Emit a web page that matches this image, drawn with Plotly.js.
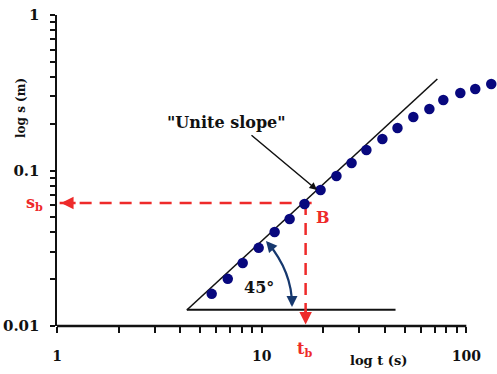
<!DOCTYPE html>
<html><head><meta charset="UTF-8"><title>Unit slope</title>
<script src="https://cdn.plot.ly/plotly-3.0.1.min.js"></script>
<style>
  body, html { margin: 0; padding: 0; background: #ffffff; }
  #plot { width: 497px; height: 374px; }
</style></head><body>
<div id="plot"></div>
<script>
// measured drawdown points (t in s, s in m)
const tData = [5.70, 6.83, 8.08, 9.67, 11.57, 13.7, 16.2, 19.4, 23.2, 27.5, 32.5, 38.9, 46.1, 55.1, 66.0, 77.2, 93.5, 110.6, 132.4];
const sData = [0.0161, 0.0201, 0.0254, 0.0318, 0.0402, 0.0488, 0.0609, 0.0749, 0.0922, 0.1117, 0.1355, 0.1595, 0.1877, 0.2208, 0.2486, 0.2841, 0.3150, 0.3343, 0.3598];

// unit slope line and its base line
const slopeX = [4.31, 72.2];
const slopeY = [0.01267, 0.3875];
const baseX = [4.31, 45.1];
const baseY = [0.0127, 0.0127];

// point B
const tB = 16.4;
const sB = 0.0618;
const dashHX = [1.03, 18.8];
const dashHY = [sB, sB];
const dashVX = [tB, tB];
const dashVY = [sB, 0.0106];

// axis ticks
const xTicks = [1, 2, 3, 4, 5, 6, 7, 8, 9, 10, 20, 30, 40, 50, 60, 70, 80, 90, 100];
const xTickText = xTicks.map(v => (v === 1 || v === 10 || v === 100) ? String(v) : '');
const yTicks = [0.01, 0.02, 0.03, 0.04, 0.05, 0.06, 0.07, 0.08, 0.09, 0.1, 0.2, 0.3, 0.4, 0.5, 0.6, 0.7, 0.8, 0.9, 1];
const yTickText = yTicks.map(v => (v === 0.01 || v === 0.1 || v === 1) ? String(v) : '');

const RED = '#ee2a2a';
const NAVY = '#08087e';
const ARC = '#16386e';
const FONT = 'DejaVu Serif';

const traces = [
  { x: slopeX, y: slopeY, mode: 'lines', line: { color: '#111', width: 1.6 }, hoverinfo: 'skip' },
  { x: baseX, y: baseY, mode: 'lines', line: { color: '#111', width: 2 }, hoverinfo: 'skip' },
  { x: dashHX, y: dashHY, mode: 'lines', line: { color: RED, width: 2.5, dash: '12px,8px' }, hoverinfo: 'skip' },
  { x: dashVX, y: dashVY, mode: 'lines', line: { color: RED, width: 2.5, dash: '12px,8px' }, hoverinfo: 'skip' },
  { x: tData, y: sData, mode: 'markers', marker: { color: NAVY, size: 10.5 } }
];

// pixel -> paper helpers for the hand-placed labels
const toPx = (px) => (px - 57) / 440;
const toPy = (py) => (326 - py) / 311;

function label(px, py, text, size, color, extra) {
  return Object.assign({
    xref: 'paper', yref: 'paper', x: toPx(px), y: toPy(py), text: text, showarrow: false,
    xanchor: 'center', yanchor: 'middle',
    font: { family: FONT, size: size, weight: 'bold', color: color || '#111' }
  }, extra || {});
}

const layout = {
  width: 497, height: 374,
  margin: { l: 57, r: 0, t: 15, b: 48 },
  paper_bgcolor: '#ffffff',
  plot_bgcolor: '#ffffff',
  showlegend: false,
  font: { family: FONT, color: '#111' },
  xaxis: {
    type: 'log', range: [0, 2.15],
    showgrid: false, zeroline: false, showline: false,
    ticks: 'outside', ticklen: 6, tickwidth: 2, tickcolor: '#111',
    tickvals: xTicks, ticktext: xTickText,
    tickfont: { family: FONT, size: 14, color: '#111', weight: 'bold' },
    ticklabelstandoff: 11
  },
  yaxis: {
    type: 'log', range: [-2, 0],
    showgrid: false, zeroline: false,
    showline: true, linecolor: '#111', linewidth: 2.5,
    ticks: 'outside', ticklen: 5, tickwidth: 2, tickcolor: '#111',
    tickvals: yTicks, ticktext: yTickText,
    tickfont: { family: FONT, size: 15, color: '#111', weight: 'bold' },
    ticklabelstandoff: 7
  },
  shapes: [
    // x axis line, only from 1 to 100
    { type: 'line', xref: 'x', yref: 'paper', x0: 1, x1: 100, y0: 0, y1: 0,
      line: { color: '#111', width: 2.5 }, layer: 'above' },
    // 45 degree arc
    { type: 'path', xref: 'paper', yref: 'paper',
      path: `M${toPx(268)},${toPy(243)} Q${toPx(292)},${toPy(272)} ${toPx(292)},${toPy(305)}`,
      line: { color: ARC, width: 2.2 } }
  ],
  annotations: [
    label(21, 108, 'log s (m)', 12, null, { textangle: -90 }),
    label(378, 360, 'log t (s)', 13),
    label(226, 123, '"Unite slope"', 16),
    label(34, 203, 's<sub>b</sub>', 16, RED),
    label(323, 218, 'B', 16, RED),
    label(304, 349, 't<sub>b</sub>', 16, RED),
    label(259, 287, '45°', 16),
    // arrow to the unit slope line
    { x: (317 - 57) / 204.65, y: (326 - 190) / 155.5 - 2, text: '', showarrow: true,
      ax: -67, ay: -56, arrowhead: 2, arrowsize: 1, arrowwidth: 1.5, arrowcolor: '#111', standoff: 0 },
    // red arrow heads
    { x: 0.02, y: Math.log10(sB), text: '', showarrow: true, ax: 16, ay: 0,
      arrowhead: 2, arrowsize: 1, arrowwidth: 2.5, arrowcolor: RED, standoff: 0 },
    { x: Math.log10(tB), y: -1.99, text: '', showarrow: true, ax: 0, ay: -16,
      arrowhead: 2, arrowsize: 1, arrowwidth: 2.5, arrowcolor: RED, standoff: 0 },
    // 45 deg arc arrow heads
    { xref: 'paper', yref: 'paper', x: toPx(266), y: toPy(241), text: '', showarrow: true, ax: 7, ay: 8,
      arrowhead: 2, arrowsize: 1, arrowwidth: 2.2, arrowcolor: ARC, standoff: 0 },
    { xref: 'paper', yref: 'paper', x: toPx(292), y: toPy(307), text: '', showarrow: true, ax: 0, ay: -9,
      arrowhead: 2, arrowsize: 1, arrowwidth: 2.2, arrowcolor: ARC, standoff: 0 }
  ]
};

Plotly.newPlot('plot', traces, layout, { displayModeBar: false, staticPlot: true });
</script>
</body></html>
